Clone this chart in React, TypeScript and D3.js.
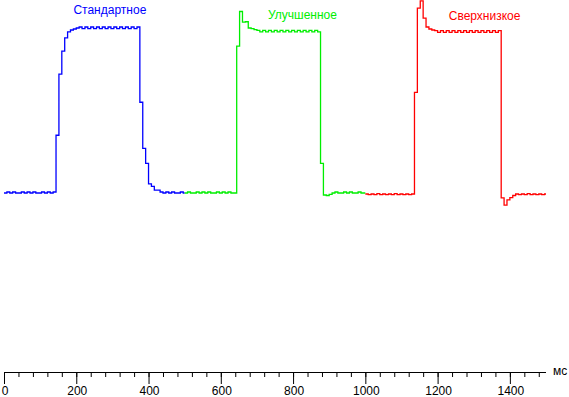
import React, { useRef, useEffect } from 'react';
import * as d3 from 'd3';

// one sample every 8 ms, each mode recorded for 500 ms
const sampleMs = 8;
const segmentMs = 500;

const seriesNames = ['Стандартное', 'Улучшенное', 'Сверхнизкое'];
const seriesStarts = [0, 500, 1000];

const standardValues = [
  0, 0.6, 0, 0.6, 0, 0, 0.6, 0, 0.6, 0, 0.6, 0, 0, 0.6, 0, 0.6, 0, 0.6,
  35, 72, 86, 94, 97.6, 98.8, 99.4, 100,
  100.6, 99.6, 100.6, 99.6, 100.6, 99.6, 100.6, 99.6, 100.6, 99.6, 100.6,
  99.6, 100.6, 99.6, 100.6, 99.6, 100.6, 99.6, 100.6, 99.6, 100.6,
  55, 27, 18, 5.5, 4, 1.8, 1.8, 0.6,
  0, 0.6, 0, 0.6, 0, 0, 0.6, 0,
];

const improvedValues = [
  0, 0.6, 0, 0, 0.6, 0, 0.6, 0, 0.6, 0, 0, 0.6, 0, 0.6, 0, 0.6, 0, 0,
  89, 110, 103.6, 103.8, 100, 99.6, 99,
  98.6, 97.6, 98.6, 97.6, 98.6, 97.6, 98.6, 97.6, 98.6, 97.6, 98.6,
  97.6, 98.6, 97.6, 98.6, 97.6, 98.6, 97.6, 98.6, 97.6, 98.6, 97.6,
  18, -1.2, -1.5, -0.8,
  0, 0.6, 0, 0, 0.6, 0, 0.6, 0, 0, 0.6, 0, 0,
];

const ultraLowValues = [
  -0.6, -1, -0.6, -1, -0.4, -1, -0.6, -1, -0.6, -1, -0.4, -1, -0.6, -1, -0.6, -1, -0.6,
  61, 112, 116.5, 106, 100.6, 99.4, 98.8,
  98.4, 97.4, 98.4, 97.4, 98.4, 97.4, 98.4, 97.4, 98.4, 97.4, 98.4, 97.4,
  98.4, 97.4, 98.4, 97.4, 98.4, 97.4, 98.4, 97.4, 98.4, 97.4, 98.4,
  -3, -7.3, -4.2, -2.8, -1.5,
  -0.6, -1, -0.6, -1, -0.4, -1, -0.6, -1, -0.6, -1, -0.6,
];

const seriesValues = [standardValues, improvedValues, ultraLowValues];
const seriesColors = ['#0000ff', '#00ee00', '#ff0000'];

// where each name sits (time in ms, baseline in px)
const labelLayout = [
  { t: 293, y: 14 },
  { t: 826, y: 18.5 },
  { t: 1330, y: 19.5 },
];

const Chart = () => {
  const chartRef = useRef(null);

  useEffect(() => {
    const width = 569;
    const height = 397;

    d3.select(chartRef.current).select('svg').remove();

    const svg = d3.select(chartRef.current)
      .append('svg')
      .attr('width', width)
      .attr('height', height)
      .style('position', 'absolute')
      .style('left', 0)
      .style('top', 0)
      .style('background', '#fff');

    const x = d3.scaleLinear().domain([0, 1500]).range([4, 546]);
    const y = d3.scaleLinear().domain([0, 100]).range([193, 28]);

    const line = d3.line()
      .x(d => x(d[0]))
      .y(d => y(d[1]))
      .curve(d3.curveStepAfter);

    seriesValues.forEach((vals, k) => {
      const pts = vals.map((v, i) => [seriesStarts[k] + i * sampleMs, v]);
      pts.push([seriesStarts[k] + segmentMs, vals[vals.length - 1]]);
      svg.append('path')
        .datum(pts)
        .attr('fill', 'none')
        .attr('stroke', seriesColors[k])
        .attr('stroke-width', 1.3)
        .attr('d', line);

      svg.append('text')
        .attr('x', x(labelLayout[k].t))
        .attr('y', labelLayout[k].y)
        .attr('text-anchor', 'middle')
        .attr('font-family', 'Liberation Sans, Arial, sans-serif')
        .attr('font-size', 12)
        .attr('fill', seriesColors[k])
        .text(seriesNames[k]);
    });

    // time axis
    const axisY = 372;
    const g = svg.append('g').attr('transform', `translate(0, ${axisY})`);
    const axis = d3.axisBottom(x)
      .tickValues(d3.range(0, 1500, 40))
      .tickSize(5)
      .tickFormat(() => '');
    g.call(axis);
    g.select('.domain').attr('d', `M${x(0)},0.5H${x(1500)}`).attr('stroke', '#000');
    g.selectAll('.tick line').attr('stroke', '#000');

    const majors = d3.range(0, 1401, 200);
    const mg = svg.append('g').attr('transform', `translate(0, ${axisY})`);
    mg.selectAll('line')
      .data(majors)
      .enter()
      .append('line')
      .attr('x1', d => x(d) + 0.5)
      .attr('x2', d => x(d) + 0.5)
      .attr('y1', 0)
      .attr('y2', 12)
      .attr('stroke', '#000');
    mg.selectAll('text')
      .data(majors)
      .enter()
      .append('text')
      .attr('x', d => x(d) + 1)
      .attr('y', 23)
      .attr('text-anchor', 'middle')
      .attr('font-family', 'Liberation Sans, Arial, sans-serif')
      .attr('font-size', 12)
      .attr('fill', '#000')
      .text(d => d);

    svg.append('text')
      .attr('x', x(1500) + 7)
      .attr('y', axisY + 3)
      .attr('font-family', 'Liberation Sans, Arial, sans-serif')
      .attr('font-size', 12)
      .attr('fill', '#000')
      .text('мс');
  }, []);

  return (
    <div ref={chartRef} />
  );
};

export default function App() {
  return <Chart />;
}
